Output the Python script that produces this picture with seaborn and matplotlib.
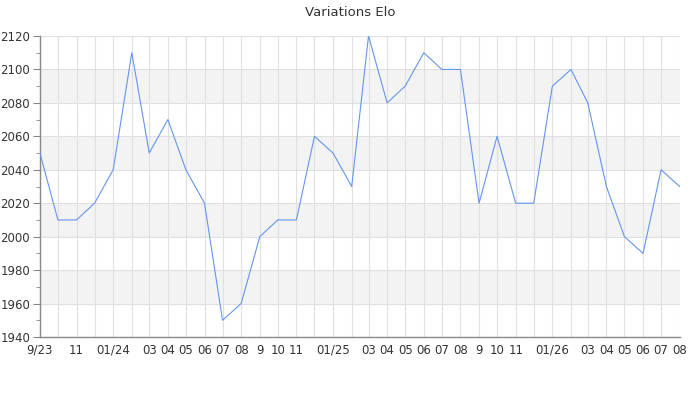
import pandas as pd
import seaborn as sns
import matplotlib.pyplot as plt
from matplotlib.ticker import MultipleLocator

# Elo mensuel, sept 2023 -> août 2026
mois = pd.date_range('2023-09-01', '2026-08-01', freq='MS')
elo = [2050, 2010, 2010, 2020, 2040, 2110, 2050, 2070, 2040, 2020, 1950, 1960,
       2000, 2010, 2010, 2060, 2050, 2030, 2120, 2080, 2090, 2110, 2100, 2100,
       2020, 2060, 2020, 2020, 2090, 2100, 2080, 2030, 2000, 1990, 2040, 2030]
etiquettes = ['9/23', '', '11', '', '01/24', '', '03', '04', '05', '06', '07', '08',
              '9', '10', '11', '', '01/25', '', '03', '04', '05', '06', '07', '08',
              '9', '10', '11', '', '01/26', '', '03', '04', '05', '06', '07', '08']

df = pd.DataFrame({'mois': mois, 'elo': elo})

sns.set_style('white')
plt.rcParams['font.family'] = ['DejaVu Sans']

fig = plt.figure(figsize=(7, 4), dpi=100)
ax = fig.add_axes([0.057, 0.1575, 0.914, 0.7525])

# bandes grises alternées
for y0 in range(1960, 2120, 40):
    ax.axhspan(y0, y0 + 20, color='#f3f3f3', zorder=0, lw=0)

sns.lineplot(data=df, x='mois', y='elo', ax=ax, color='#6495ed', linewidth=0.8, zorder=3)

ax.set_xlim(mois[0], mois[-1])
ax.set_ylim(1940, 2120)
ax.set_xticks(mois)
ax.set_xticklabels(etiquettes)
ax.yaxis.set_major_locator(MultipleLocator(20))
ax.yaxis.set_minor_locator(MultipleLocator(10))

ax.grid(True, which='major', color='#e0e0e0', linewidth=0.8, zorder=1)
ax.set_axisbelow(True)

ax.tick_params(axis='x', length=0, pad=5, labelsize=8.5, labelcolor='#333333')
ax.tick_params(axis='y', which='major', left=True, length=5, color='#888888',
               labelsize=8.5, labelcolor='#333333', pad=2)
ax.tick_params(axis='y', which='minor', left=True, length=3, color='#888888')

for s in ['top', 'right']:
    ax.spines[s].set_visible(False)
for s in ['left', 'bottom']:
    ax.spines[s].set_color('#888888')
    ax.spines[s].set_linewidth(1)

ax.set_xlabel('')
ax.set_ylabel('')
fig.suptitle('Variations Elo', y=0.985, fontsize=9.5, color='#333333')

fig.savefig('out.png', dpi=100)
